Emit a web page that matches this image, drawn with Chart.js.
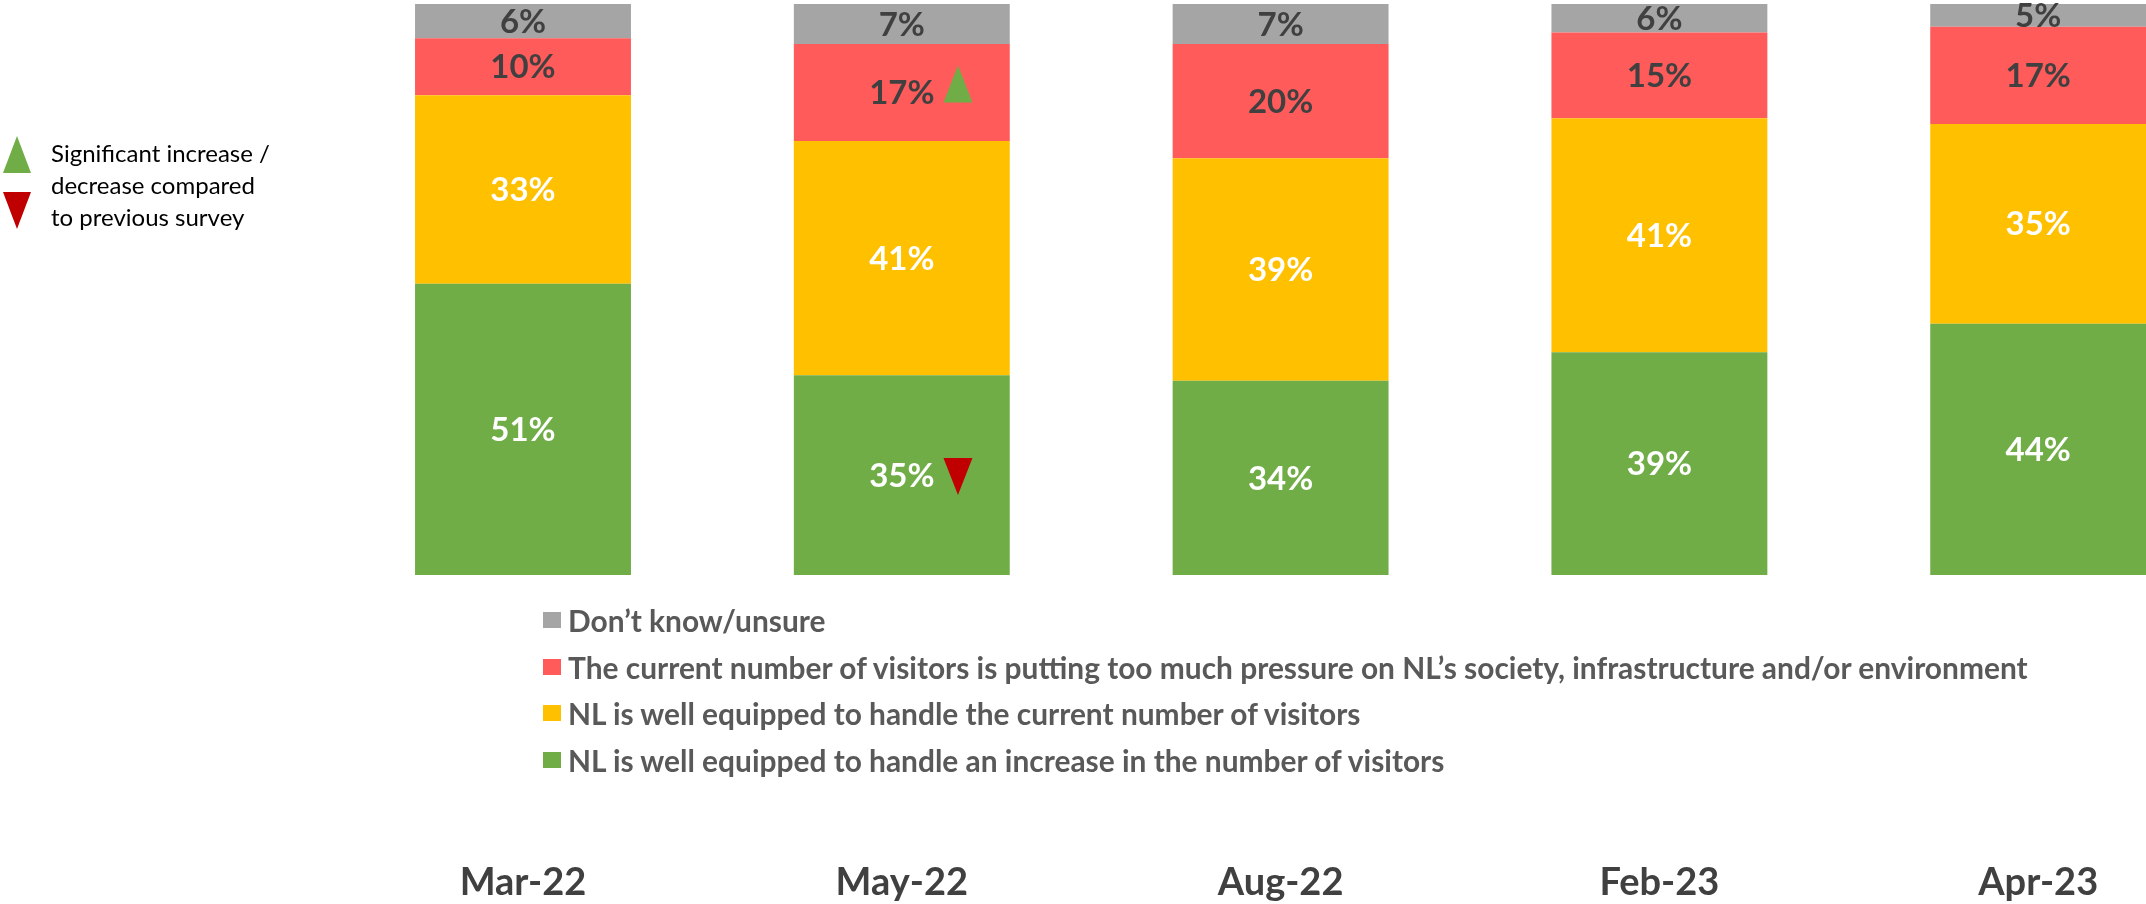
<!DOCTYPE html>
<html>
<head>
<meta charset="utf-8">
<script src="https://cdn.jsdelivr.net/npm/chart.js@4.4.1/dist/chart.umd.min.js"></script>
<style>
  html, body { margin: 0; padding: 0; background: #fff; overflow: hidden; width: 2146px; height: 904px; }
  #wrap { position: absolute; left: 0; top: 0; width: 2240px; height: 904px; }
  #chart { display: block; width: 2240px; height: 904px; }
  #note { position: absolute; left: 0; top: 0; font-family: Lato, sans-serif; font-size: 24px; color: #000; }
  #note .tri { position: absolute; left: 3px; width: 0; height: 0; border-left: 14.5px solid transparent; border-right: 14.5px solid transparent; }
  #note .up { top: 136px; border-bottom: 37px solid #70AD47; }
  #note .down { top: 192px; border-top: 37px solid #C00000; }
  #note .txt { position: absolute; left: 51px; top: 137px; line-height: 32px; white-space: nowrap; }
  #legend { position: absolute; left: 543px; top: 597px; font-family: Lato, sans-serif; font-weight: 700; font-size: 29.9px; color: #595959; }
  #legend .row { height: 46.5px; display: flex; align-items: center; white-space: nowrap; }
  #legend .sw { width: 18px; height: 16px; margin-right: 7px; flex: none; }
</style>
</head>
<body>
<div id="wrap"><canvas id="chart" width="2240" height="904"></canvas></div>
<div id="note">
  <div class="tri up"></div>
  <div class="tri down"></div>
  <div class="txt">Significant increase /<br>decrease compared<br>to previous survey</div>
</div>
<div id="legend"></div>
<script>
// Survey waves
const surveys = ['Mar-22', 'May-22', 'Aug-22', 'Feb-23', 'Apr-23'];

// Share of respondents per answer (%)
const increaseOk = [51, 35, 34, 39, 44];
const currentOk = [33, 41, 39, 41, 35];
const tooMuchPressure = [10, 17, 20, 15, 17];
const dontKnow = [6, 7, 7, 6, 5];

// Significant change versus the previous wave
const increaseOkChange = [null, 'down', null, null, null];
const pressureChange = [null, 'up', null, null, null];

const answerNames = [
  'NL is well equipped to handle an increase in the number of visitors',
  'NL is well equipped to handle the current number of visitors',
  'The current number of visitors is putting too much pressure on NL\u2019s society, infrastructure and/or environment',
  'Don\u2019t know/unsure'
];

const colors = ['#70AD47', '#FFC000', '#FF5B5B', '#A5A5A5'];
const labelColors = ['#FFFFFF', '#FFFFFF', '#404040', '#404040'];

Chart.defaults.font.family = 'Lato, sans-serif';

// Percent labels inside each segment, with optional change markers
const segmentLabels = {
  id: 'segmentLabels',
  afterDatasetsDraw(chart) {
    const { ctx, chartArea } = chart;
    ctx.save();
    ctx.font = 'bold 33px Lato, sans-serif';
    ctx.textAlign = 'center';
    ctx.textBaseline = 'middle';
    chart.data.datasets.forEach((ds, di) => {
      const meta = chart.getDatasetMeta(di);
      meta.data.forEach((bar, i) => {
        const top = Math.max(bar.y, chartArea.top);
        const cy = (top + bar.base) / 2;
        const text = ds.data[i] + '%';
        ctx.fillStyle = ds.labelColor;
        ctx.fillText(text, bar.x, cy + 1);
        const mark = ds.change && ds.change[i];
        if (mark) {
          const w = ctx.measureText(text).width;
          const x0 = bar.x + w / 2 + 9;
          ctx.beginPath();
          if (mark === 'up') {
            ctx.fillStyle = '#70AD47';
            ctx.moveTo(x0, cy + 10);
            ctx.lineTo(x0 + 29, cy + 10);
            ctx.lineTo(x0 + 14.5, cy - 27);
          } else {
            ctx.fillStyle = '#C00000';
            ctx.moveTo(x0, cy - 17);
            ctx.lineTo(x0 + 29, cy - 17);
            ctx.lineTo(x0 + 14.5, cy + 20);
          }
          ctx.closePath();
          ctx.fill();
        }
      });
    });
    ctx.restore();
  }
};

const seriesValues = [increaseOk, currentOk, tooMuchPressure, dontKnow];
const seriesChanges = [increaseOkChange, null, pressureChange, null];

const chart = new Chart(document.getElementById('chart'), {
  type: 'bar',
  data: {
    labels: surveys,
    datasets: seriesValues.map((vals, k) => ({
      label: answerNames[k],
      data: vals,
      backgroundColor: colors[k],
      borderWidth: 0,
      labelColor: labelColors[k],
      change: seriesChanges[k],
      categoryPercentage: 1,
      barPercentage: 0.57
    }))
  },
  options: {
    responsive: false,
    maintainAspectRatio: false,
    devicePixelRatio: 1,
    animation: false,
    layout: { padding: { left: 333.6, right: 12.4, top: 4, bottom: 0 } },
    plugins: { legend: { display: false }, tooltip: { enabled: false } },
    scales: {
      x: {
        stacked: true,
        // invisible tick marks push the month labels below the legend
        grid: { display: false, drawTicks: true, tickLength: 289, tickColor: 'rgba(0,0,0,0)' },
        border: { display: false },
        ticks: {
          padding: 0,
          color: '#404040',
          font: { size: 38, weight: 'bold', lineHeight: 1 }
        },
        afterFit(scale) { scale.height = 329; }
      },
      y: {
        stacked: true,
        display: false,
        min: 0,
        max: 100
      }
    }
  },
  plugins: [segmentLabels]
});

// Legend listing answers from top segment to bottom segment
const legendEl = document.getElementById('legend');
chart.data.datasets.slice().reverse().forEach(ds => {
  const row = document.createElement('div');
  row.className = 'row';
  const sw = document.createElement('span');
  sw.className = 'sw';
  sw.style.background = ds.backgroundColor;
  const txt = document.createElement('span');
  txt.textContent = ds.label;
  row.appendChild(sw);
  row.appendChild(txt);
  legendEl.appendChild(row);
});
</script>
</body>
</html>
